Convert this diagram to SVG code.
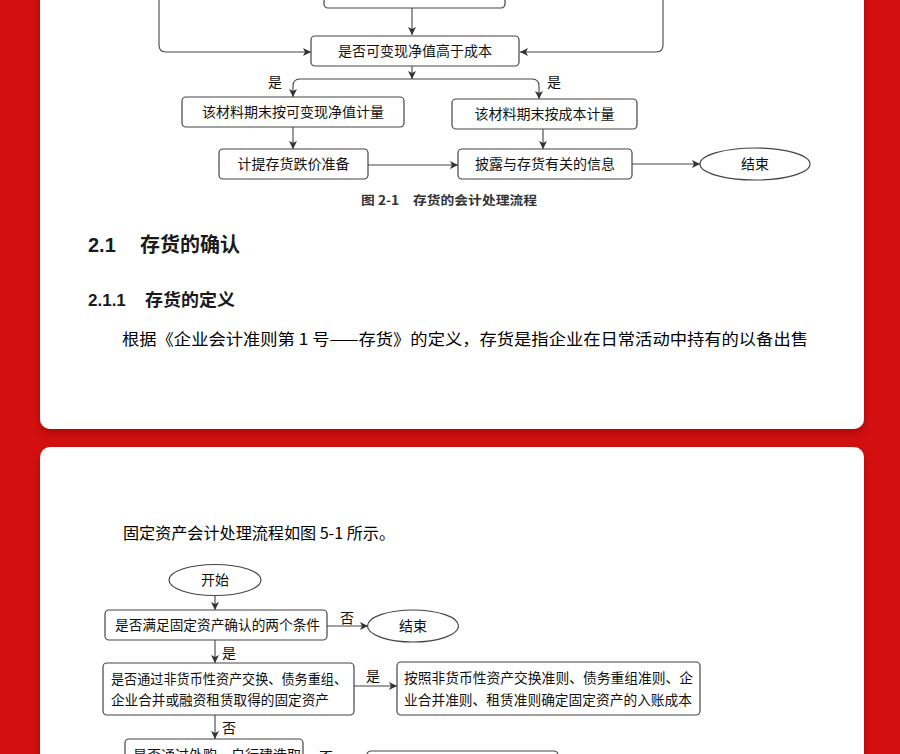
<svg xmlns="http://www.w3.org/2000/svg" width="900" height="754" viewBox="0 0 900 754">
<defs>
<filter id="sh" x="-5%" y="-5%" width="110%" height="115%">
<feDropShadow dx="0" dy="4" stdDeviation="5" flood-color="#700000" flood-opacity="0.45"/>
</filter>
<marker id="ah" viewBox="0 0 10 10" refX="10" refY="5" markerWidth="8" markerHeight="8" markerUnits="userSpaceOnUse" orient="auto">
<path d="M0,0 L10,5 L0,10 L2.5,5 Z" fill="#333"/>
</marker>
<style>
.bx{fill:#fff;stroke:#444;stroke-width:1.2}
.el{fill:#fff;stroke:#444;stroke-width:1.2}
.ln{fill:none;stroke:#444;stroke-width:1.1;marker-end:url(#ah)}
.t{font-family:"Noto Sans CJK SC","Liberation Sans",sans-serif;font-size:14px;font-weight:400;fill:#111}
.tm{text-anchor:middle}
.h1{font-family:"Liberation Sans","Noto Sans CJK SC",sans-serif;font-size:20px;font-weight:600;fill:#1a1a1a}
.h2{font-family:"Liberation Sans","Noto Sans CJK SC",sans-serif;font-size:17px;font-weight:bold;fill:#1a1a1a}
.body{font-family:"Noto Sans CJK SC",serif;font-size:16px;font-weight:400;fill:#000}
.cap{font-family:"Noto Sans CJK SC","Liberation Sans",sans-serif;font-size:12.5px;font-weight:600;fill:#333}
</style>
</defs>
<rect x="0" y="0" width="900" height="754" fill="#d40f0f"/>
<rect id="card1" x="40" y="-20" width="824" height="449" rx="10" fill="#fff" filter="url(#sh)"/>
<rect id="card2" x="40" y="447" width="824" height="330" rx="10" fill="#fff" filter="url(#sh)"/>

<!-- top flow -->
<g id="connectors1">
<path class="ln" d="M412,8 V35"/>
<path class="ln" d="M159,-5 V45 Q159,52 166,52 H311"/>
<path class="ln" d="M663,-5 V45 Q663,52 656,52 H520"/>
<path class="ln" d="M412,66 V79"/>
<path class="ln" d="M293,86 Q293,79 300,79 H532 Q539,79 539,86 V99"/>
<path class="ln" d="M293,86 V97"/>
<path class="ln" d="M293,127 V149"/>
<path class="ln" d="M543,129 V149"/>
<path class="ln" d="M368,165 H458"/>
<path class="ln" d="M632,164 H700"/>
</g>
<g id="n-top"><rect class="bx" x="324" y="-25" width="181" height="33" rx="4"/></g>
<g id="n-cmp"><rect class="bx" x="311" y="36" width="208" height="30" rx="4"/><text class="t tm" x="415" y="56">是否可变现净值高于成本</text></g>
<g id="lbl-yes1"><text class="t tm" x="275" y="87">是</text></g>
<g id="lbl-yes2"><text class="t tm" x="554" y="87">是</text></g>
<g id="n-nrv"><rect class="bx" x="182" y="97" width="222" height="30" rx="4"/><text class="t tm" x="293" y="117">该材料期末按可变现净值计量</text></g>
<g id="n-cost"><rect class="bx" x="452" y="99" width="185" height="30" rx="4"/><text class="t tm" x="544.5" y="119">该材料期末按成本计量</text></g>
<g id="n-prov"><rect class="bx" x="219" y="149" width="149" height="30" rx="4"/><text class="t tm" x="293.5" y="169">计提存货跌价准备</text></g>
<g id="n-disc"><rect class="bx" x="458" y="149" width="174" height="30" rx="4"/><text class="t tm" x="545" y="169">披露与存货有关的信息</text></g>
<g id="n-end1"><ellipse class="el" cx="755" cy="164" rx="55" ry="16"/><text class="t tm" x="755" y="169">结束</text></g>
<text class="cap" x="361" y="205" textLength="176" lengthAdjust="spacingAndGlyphs">图 2-1　存货的会计处理流程</text>

<text class="h1" x="88" y="252">2.1</text>
<text class="h1" x="140" y="252" textLength="100" lengthAdjust="spacingAndGlyphs">存货的确认</text>
<text class="h2" x="88" y="306">2.1.1</text>
<text class="h2" x="145" y="306" textLength="90" lengthAdjust="spacingAndGlyphs">存货的定义</text>
<text class="body" x="122" y="345" textLength="686" lengthAdjust="spacingAndGlyphs">根据《企业会计准则第 1 号——存货》的定义，存货是指企业在日常活动中持有的以备出售</text>

<text class="body" x="123" y="539" textLength="272" lengthAdjust="spacingAndGlyphs">固定资产会计处理流程如图 5-1 所示。</text>

<!-- bottom flow -->
<g id="connectors2">
<path class="ln" d="M215,596 V610"/>
<path class="ln" d="M327,626 H368"/>
<path class="ln" d="M215,640 V663"/>
<path class="ln" d="M354,686 H397"/>
<path class="ln" d="M215,715 V739"/>
</g>
<g id="n-start"><ellipse class="el" cx="215" cy="580" rx="46" ry="15.5"/><text class="t tm" x="215" y="585">开始</text></g>
<g id="n-cond"><rect class="bx" x="105" y="610" width="222" height="30" rx="4"/><text class="t" x="115" y="630" textLength="205" lengthAdjust="spacingAndGlyphs">是否满足固定资产确认的两个条件</text></g>
<g id="lbl-no1"><text class="t tm" x="347" y="623">否</text></g>
<g id="n-end2"><ellipse class="el" cx="413" cy="626" rx="45.5" ry="16"/><text class="t tm" x="413" y="631">结束</text></g>
<g id="lbl-yes3"><text class="t" x="222" y="658">是</text></g>
<g id="n-nonmon"><rect class="bx" x="103" y="663" width="251" height="52" rx="4"/>
<text class="t" x="111" y="684" textLength="236" lengthAdjust="spacingAndGlyphs">是否通过非货币性资产交换、债务重组、</text>
<text class="t" x="111" y="705" textLength="218" lengthAdjust="spacingAndGlyphs">企业合并或融资租赁取得的固定资产</text></g>
<g id="lbl-yes4"><text class="t tm" x="373" y="681">是</text></g>
<g id="n-rule"><rect class="bx" x="397" y="662" width="303" height="53" rx="4"/>
<text class="t" x="404" y="683" textLength="289" lengthAdjust="spacingAndGlyphs">按照非货币性资产交换准则、债务重组准则、企</text>
<text class="t" x="404" y="705" textLength="288" lengthAdjust="spacingAndGlyphs">业合并准则、租赁准则确定固定资产的入账成本</text></g>
<g id="lbl-no2"><text class="t" x="222" y="733">否</text></g>
<g id="n-buy"><rect class="bx" x="125" y="739" width="178" height="40" rx="4"/><text class="t" x="133" y="760">是否通过外购、自行建造取</text></g>
<g id="lbl-no3"><text class="t" x="319" y="762">否</text></g>
<g id="n-next"><rect class="bx" x="367" y="751" width="191" height="40" rx="4"/></g>
</svg>
